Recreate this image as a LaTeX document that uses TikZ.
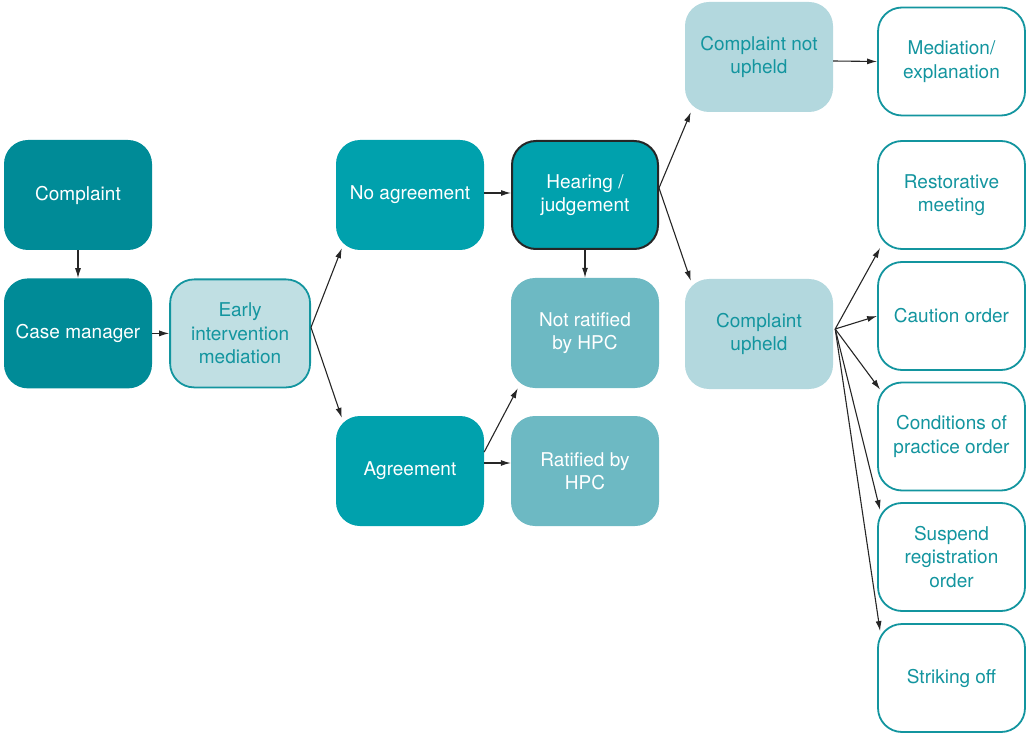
\documentclass[tikz,border=0pt]{standalone}
\usepackage{fontspec}
\setmainfont{TeX Gyre Heros}
\usetikzlibrary{positioning}
\usetikzlibrary{arrows.meta}

\definecolor{tealdark}{HTML}{008B97}
\definecolor{tealmid}{HTML}{00A1AD}
\definecolor{tealsoft}{HTML}{6DB9C3}
\definecolor{tealpale}{HTML}{B3D8DE}
\definecolor{tealedge}{HTML}{13959F}
\definecolor{tealfog}{HTML}{C0DFE3}

\begin{document}
\begin{tikzpicture}
	[	x=1pt, y=-1pt,
		box/.style={rectangle,rounded corners=24pt,minimum width=148pt,minimum height=110pt,
			align=center,inner sep=2pt,font=\fontsize{19}{23.5}\selectfont},
		darkbox/.style={box,fill=tealdark,text=white},
		midbox/.style={box,fill=tealmid,text=white},
		softbox/.style={box,fill=tealsoft,text=white},
		palebox/.style={box,fill=tealpale,text=tealedge},
		outbox/.style={box,draw=tealedge,line width=1.8pt,fill=white,text=tealedge,
			minimum width=147pt,minimum height=108pt},
		vec/.style={-{Latex[length=10pt,width=6pt]},line width=1.1pt,draw=black!85}	]
	\useasboundingbox (0,0) rectangle (1028,735);
	% left part
	\node[darkbox] (complaint) at (78,195) {Complaint};
	\node[darkbox] (casemgr) [below = 28pt of complaint] {Case manager};
	\node[outbox,fill=tealfog,minimum width=140pt] (early) [right = 17pt of casemgr] {Early\\intervention\\mediation};
	\draw[vec] (complaint) to (casemgr);
	\draw[vec] (casemgr) to (early);
	% agreement or not
	\node[midbox] (noagree) at (410,195) {No agreement};
	\node[midbox] (agree) at (410,471) {Agreement};
	\node[midbox,draw=black!85,line width=2pt,minimum width=146pt,minimum height=108pt] (hearing) at (585,195) {Hearing /\\judgement};
	\node[softbox] (notratified) at (585,333) {Not ratified\\by HPC};
	\node[softbox] (ratified) at (585,471) {Ratified by\\HPC};
	\draw[vec] ([yshift=6pt]early.east) to ([xshift=6pt,yshift=2pt]noagree.south west);
	\draw[vec] ([yshift=6pt]early.east) to ([xshift=6pt,yshift=-2pt]agree.north west);
	\draw[vec] ([yshift=2pt]noagree.east) to ([yshift=2pt]hearing.west);
	\draw[vec] (hearing) to (notratified);
	\draw[vec] ([yshift=8pt]agree.east) to ([yshift=8pt]ratified.west);
	\draw[vec] ([yshift=19pt]agree.east) to ([xshift=7pt]notratified.south west);
	% outcome of the hearing
	\node[palebox] (notupheld) at (759,57) {Complaint not\\upheld};
	\node[palebox] (upheld) at (759,334) {Complaint\\upheld};
	\draw[vec] ([yshift=7pt]hearing.east) to ([xshift=6pt]notupheld.south west);
	\draw[vec] ([yshift=7pt]hearing.east) to ([xshift=6pt,yshift=-2pt]upheld.north west);
	% sanctions
	\node[outbox] (mediation) at (951.5,61.5) {Mediation/\\explanation};
	\node[outbox] (restorative) at (951.5,195) {Restorative\\meeting};
	\node[outbox] (caution) at (951.5,316) {Caution order};
	\node[outbox] (conditions) at (951.5,436.5) {Conditions of\\practice order};
	\node[outbox] (suspend) at (951.5,557) {Suspend\\registration\\order};
	\node[outbox] (striking) at (951.5,678) {Striking off};
	\draw[vec] ([yshift=-4pt]notupheld.east) to ([yshift=0pt]mediation.west);
	\draw[vec] ([xshift=2pt,yshift=5pt]upheld.east) to ([xshift=3pt,yshift=2pt]restorative.south west);
	\draw[vec] ([xshift=2pt,yshift=5pt]upheld.east) to (caution.west);
	\draw[vec] ([xshift=2pt,yshift=5pt]upheld.east) to ([xshift=3pt,yshift=-8pt]conditions.north west);
	\draw[vec] ([xshift=2pt,yshift=5pt]upheld.east) to ([xshift=3pt,yshift=-8pt]suspend.north west);
	\draw[vec] ([xshift=2pt,yshift=5pt]upheld.east) to ([xshift=3pt,yshift=-8pt]striking.north west);
\end{tikzpicture}
\end{document}
